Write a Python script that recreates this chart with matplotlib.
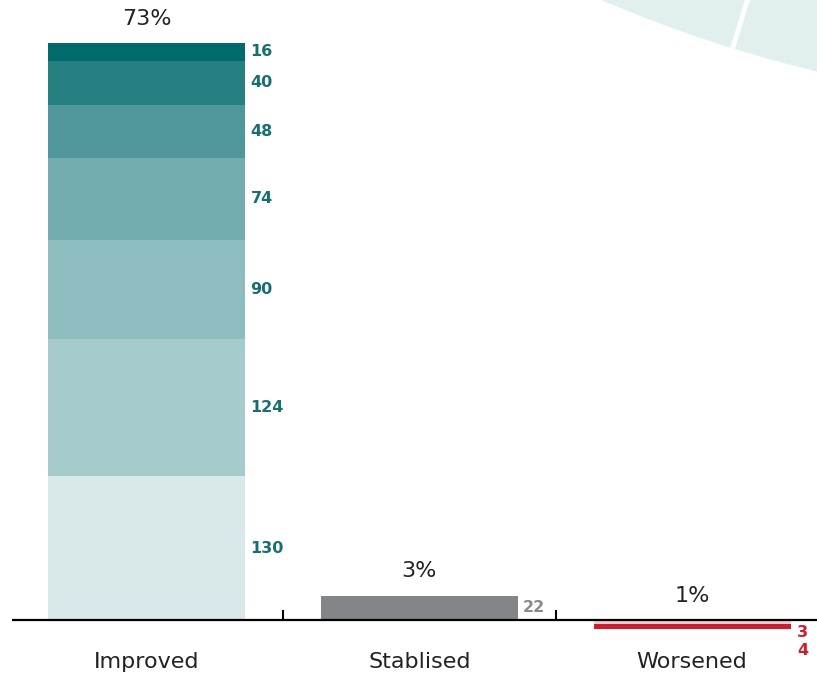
import numpy as np
import matplotlib.pyplot as plt
from matplotlib.patches import Circle

plt.rcParams['font.family'] = ['DejaVu Sans']

categories = ['Improved', 'Stablised', 'Worsened']
percents = ['73%', '3%', '1%']
improved = [130, 124, 90, 74, 48, 40, 16]
improved_colors = ['#d9e8e9', '#a6cbcd', '#8ebdc0', '#72acae', '#4f979a', '#268081', '#006a6d']
stabilised = [22]
worsened = [3, 4]
worsened_colors = ['#f2c9cd', '#c8202f']

teal_txt = '#17706f'
grey_txt = '#8a8a8c'
red_txt = '#c8202f'

fig = plt.figure(figsize=(8.17, 6.8), dpi=100)

# decorative pie fragment in the top-right corner
bg = fig.add_axes([0, 0, 1, 1], zorder=0)
bg.set_xlim(0, 817)
bg.set_ylim(680, 0)
bg.axis('off')
cx, cy, r = 1133, -1243, 1352
bg.add_patch(Circle((cx, cy), r, color='#e2efef', lw=0))
d = np.array([732 - cx, 50 - cy], dtype=float)
d /= np.hypot(*d)
bg.plot([cx, cx + d[0] * (r + 20)], [cy, cy + d[1] * (r + 20)], color='white', lw=3.5)

ax = fig.add_axes([12 / 817, 0, 805 / 817, 1], zorder=1)
ax.patch.set_alpha(0)
ax.set_xlim(-0.493, 2.458)
ax.set_ylim(-54.3, 561)
w = 0.722
off = 0.02

bottom = 0
for v, c in zip(improved, improved_colors):
    ax.bar(0, v, w, bottom=bottom, color=c, lw=0)
    ax.text(w / 2 + off, bottom + v / 2, str(v), color=teal_txt, fontsize=11.5,
            fontweight='bold', ha='left', va='center')
    bottom += v

ax.bar(1, stabilised[0], w, color='#848589', lw=0)
ax.text(1 + w / 2 + off, stabilised[0] / 2, str(stabilised[0]), color=grey_txt,
        fontsize=11.5, fontweight='bold', ha='left', va='center')

bottom = -0.8
for v, c in zip(worsened, worsened_colors):
    ax.bar(2, -v, w, bottom=bottom, color=c, lw=0)
    bottom -= v
ax.text(2 + w / 2 + 0.025, -11, str(worsened[0]), color=red_txt, fontsize=11.5,
        fontweight='bold', ha='left', va='center')
ax.text(2 + w / 2 + 0.025, -28, str(worsened[1]), color=red_txt, fontsize=11.5,
        fontweight='bold', ha='left', va='center')

tops = [sum(improved), sum(stabilised), 0]
for i, (p, t) in enumerate(zip(percents, tops)):
    ax.text(i, t + 22, p, ha='center', va='center', fontsize=16, color='#222222')

ax.axhline(0, color='black', lw=1.6, zorder=3)
for s in ['top', 'right', 'left', 'bottom']:
    ax.spines[s].set_visible(False)
ax.spines['bottom'].set_position(('data', 0))
ax.set_yticks([])
ax.set_xticks([0, 1, 2])
ax.set_xticklabels(categories)
ax.set_xticks([0.5, 1.5], minor=True)
ax.tick_params(axis='x', which='major', length=0, pad=23, labelsize=16, labelcolor='#222222')
ax.tick_params(axis='x', which='minor', direction='in', length=7.5, width=1.5, color='black')

fig.savefig('out.png', dpi=100)
